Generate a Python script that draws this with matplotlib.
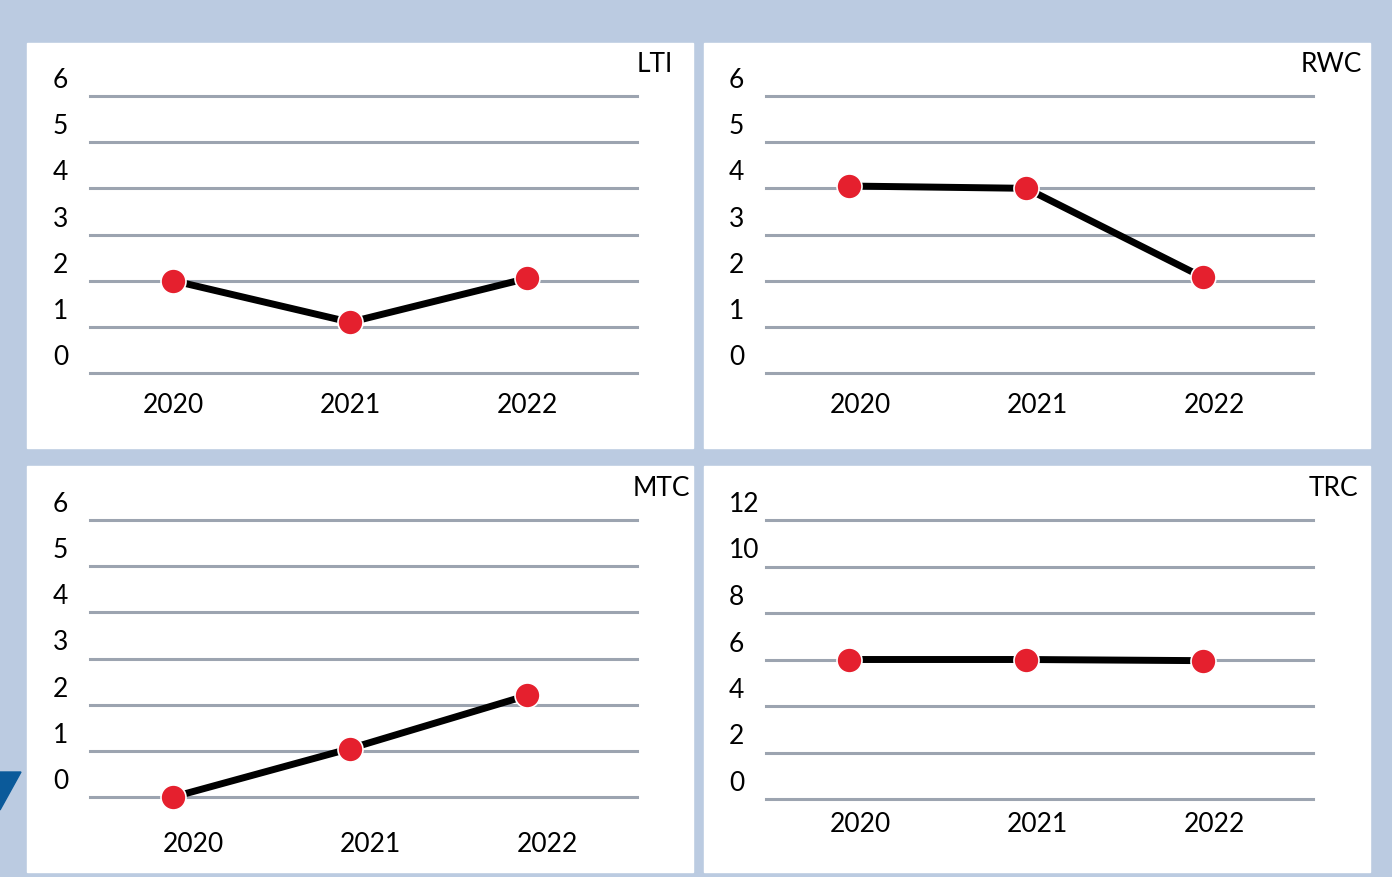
import matplotlib.pyplot as plt
from matplotlib.patches import Rectangle, Polygon
from matplotlib import transforms

plt.rcParams['font.family'] = ['Lato', 'DejaVu Sans']

years = ["2020", "2021", "2022"]
titles = ["LTI", "RWC", "MTC", "TRC"]
lti = [2.0, 1.1, 2.05]
rwc = [4.05, 4.0, 2.07]
mtc = [0.0, 1.05, 2.2]
trc = [6.0, 6.0, 5.95]
series = [lti, rwc, mtc, trc]
yticks = [[0, 1, 2, 3, 4, 5, 6], [0, 1, 2, 3, 4, 5, 6],
          [0, 1, 2, 3, 4, 5, 6], [0, 2, 4, 6, 8, 10, 12]]

W, H = 1392, 877
bg = "#bbcbe1"
grid_c = "#9ca4b0"
red = "#e5202e"

fig = plt.figure(figsize=(W / 100, H / 100), dpi=100, facecolor=bg)

# decorative triangle at left edge
fig.add_artist(Polygon([(0, 1 - 772 / H), (21 / W, 1 - 772 / H), (0, 1 - 810 / H)],
                       closed=True, transform=fig.transFigure, color="#0b5a9a", zorder=0))

# white panels (pixel boxes: x0, y0, x1, y1)
panels = [(27, 43, 693, 448), (704, 43, 1370, 448),
          (27, 466, 693, 872), (704, 466, 1370, 872)]
for x0, y0, x1, y1 in panels:
    fig.add_artist(Rectangle((x0 / W, 1 - y1 / H), (x1 - x0) / W, (y1 - y0) / H,
                             transform=fig.transFigure, color="white", zorder=1))

# axes boxes: grid left, grid top, grid right, grid zero line
boxes = [(90, 96, 637, 373), (766, 96, 1313, 373),
         (90, 520, 637, 797), (766, 520, 1313, 799)]
# year label offsets (px): dx, dy below zero line
xlab_off = [(0, 32), (11, 32), (20, 47), (11, 25)]
title_pos = [(673, 64), (1362, 64), (690, 488), (1358, 488)]

for i, (gx0, gy0, gx1, gy1) in enumerate(boxes):
    ax = fig.add_axes([gx0 / W, 1 - gy1 / H, (gx1 - gx0) / W, (gy1 - gy0) / H])
    ax.set_facecolor("none")
    ax.set_zorder(2)
    ax.axis("off")
    ax.set_xlim(-0.47, 2.62)
    ax.set_ylim(yticks[i][0], yticks[i][-1])
    for v in yticks[i]:
        ax.axhline(v, color=grid_c, lw=2.2, clip_on=False, zorder=1)

    # y labels sitting above the grid lines
    tr = transforms.offset_copy(ax.get_yaxis_transform(), fig=fig, x=-37, y=3, units="dots")
    for v in yticks[i]:
        ax.text(0, v, str(v), transform=tr, ha="left", va="bottom", fontsize=19)

    # year labels
    dx, dy = xlab_off[i]
    trx = transforms.offset_copy(ax.get_xaxis_transform(), fig=fig, x=dx, y=-dy, units="dots")
    for k, yr in enumerate(years):
        ax.text(k, 0, yr, transform=trx, ha="center", va="center", fontsize=19)

    ax.plot(range(3), series[i], color="black", lw=5, zorder=3, clip_on=False)
    ax.plot(range(3), series[i], "o", color=red, ms=18, mec="white", mew=1.2,
            zorder=4, clip_on=False)

    tx, ty = title_pos[i]
    fig.text(tx / W, 1 - ty / H, titles[i], ha="right", va="center", fontsize=19, zorder=5)

fig.savefig("out.png", dpi=100, facecolor=bg)
